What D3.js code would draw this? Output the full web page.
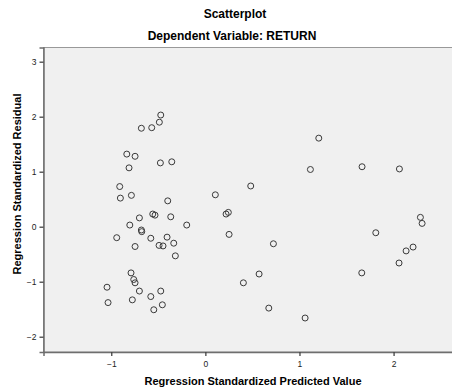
<!DOCTYPE html>
<html>
<head>
<meta charset="utf-8">
<script src="https://cdn.jsdelivr.net/npm/d3@7"></script>
<style>
	body { margin: 0; background: #fff; }
	text { font-family: 'Liberation Sans', Arial, sans-serif; }
	.title { font-weight: bold; font-size: 12px; fill: #000; }
	.axis-title { font-weight: bold; font-size: 11px; fill: #000; }
	.axis text { font-size: 8.5px; fill: #222; }
</style>
</head>
<body>
<div id="chart"></div>
<script>
/* Data */
var predicted = [
	-0.474, -0.489, -0.680, -0.570, -0.835, -0.747, -0.811, -0.478, -0.357, -0.910,
	-0.903, -0.786, -0.400, -0.701, -0.559, -0.535, -0.368, -0.198, -0.803, -0.680,
	-0.676, -0.942, -0.580, -0.407, -0.747, -0.492, -0.450, -0.336, -0.319, -0.790,
	-0.761, -0.747, -0.701, -1.045, -1.034, -0.776, -0.580, -0.474, -0.457, -0.548,
	0.106, 0.220, 0.244, 0.252, 0.482, 0.723, 0.571, 0.404, 0.674, 1.060,
	1.116, 1.205, 1.665, 1.662, 1.811, 2.062, 2.058, 2.133, 2.207, 2.285, 2.303
];
var residual = [
	2.03, 1.90, 1.79, 1.80, 1.32, 1.28, 1.07, 1.16, 1.18, 0.73,
	0.52, 0.57, 0.47, 0.16, 0.23, 0.21, 0.18, 0.03, 0.03, -0.06,
	-0.09, -0.20, -0.21, -0.19, -0.36, -0.34, -0.35, -0.30, -0.53, -0.84,
	-0.96, -1.02, -1.17, -1.10, -1.38, -1.33, -1.27, -1.17, -1.42, -1.51,
	0.58, 0.23, 0.26, -0.14, 0.74, -0.31, -0.86, -1.02, -1.48, -1.66,
	1.04, 1.61, 1.09, -0.84, -0.11, 1.05, -0.66, -0.44, -0.37, 0.17, 0.06
];
var xTicks = [-1, 0, 1, 2];
var yTicks = [-2, -1, 0, 1, 2, 3];

var width = 452;
var height = 389;
var plot = { left: 43.5, right: 462, top: 47.5, bottom: 352 };
var circleRadius = 3;

/* Scale */
var xScale = d3
	.scaleLinear()
	.domain([-1.72, 2.727])
	.range([plot.left, plot.right]);

var yScale = d3
	.scaleLinear()
	.domain([-2.278, 3.258])
	.range([plot.bottom, plot.top]);

/* Add SVG */
var svg = d3
	.select('#chart')
	.append('svg')
	.attr('width', width)
	.attr('height', height);

/* Titles */
svg.append('text')
	.attr('class', 'title')
	.attr('x', 235)
	.attr('y', 18)
	.attr('text-anchor', 'middle')
	.text('Scatterplot');

svg.append('text')
	.attr('class', 'title')
	.attr('x', 232)
	.attr('y', 40)
	.attr('text-anchor', 'middle')
	.text('Dependent Variable: RETURN');

/* Plot area */
svg.append('rect')
	.attr('x', plot.left)
	.attr('y', plot.top)
	.attr('width', plot.right - plot.left)
	.attr('height', plot.bottom - plot.top)
	.attr('fill', '#f0f0f0')
	.attr('stroke', '#999')
	.attr('stroke-width', 1);

/* Points */
svg.append('g')
	.selectAll('circle')
	.data(predicted)
	.enter()
	.append('circle')
	.attr('cx', d => xScale(d))
	.attr('cy', (d, i) => yScale(residual[i]))
	.attr('r', circleRadius)
	.attr('fill', 'none')
	.attr('stroke', '#3a3a3a')
	.attr('stroke-width', 1);

/* Axes */
var xAxis = d3.axisBottom(xScale).tickValues(xTicks).tickSize(4).tickFormat(d3.format('d'));
var yAxis = d3.axisLeft(yScale).tickValues(yTicks).tickSize(4).tickFormat(d3.format('d'));

var gx = svg.append('g')
	.attr('class', 'x axis')
	.attr('transform', `translate(0, ${plot.bottom})`)
	.call(xAxis);

var gy = svg.append('g')
	.attr('class', 'y axis')
	.attr('transform', `translate(${plot.left}, 0)`)
	.call(yAxis);

[gx, gy].forEach(function(g) {
	g.select('.domain').attr('stroke', '#6e6e6e').attr('stroke-width', 1.5);
	g.selectAll('.tick line').attr('stroke', '#444').attr('stroke-width', 1.3);
	g.selectAll('.tick text').attr('font-family', null).attr('font-size', null);
});
gx.selectAll('.tick text').attr('dy', '0.9em');

/* Axis titles */
svg.append('text')
	.attr('class', 'axis-title')
	.attr('x', 253)
	.attr('y', 385)
	.attr('text-anchor', 'middle')
	.text('Regression Standardized Predicted Value');

svg.append('text')
	.attr('class', 'axis-title')
	.attr('transform', 'translate(21, 184) rotate(-90)')
	.attr('text-anchor', 'middle')
	.text('Regression Standardized Residual');
</script>
</body>
</html>
